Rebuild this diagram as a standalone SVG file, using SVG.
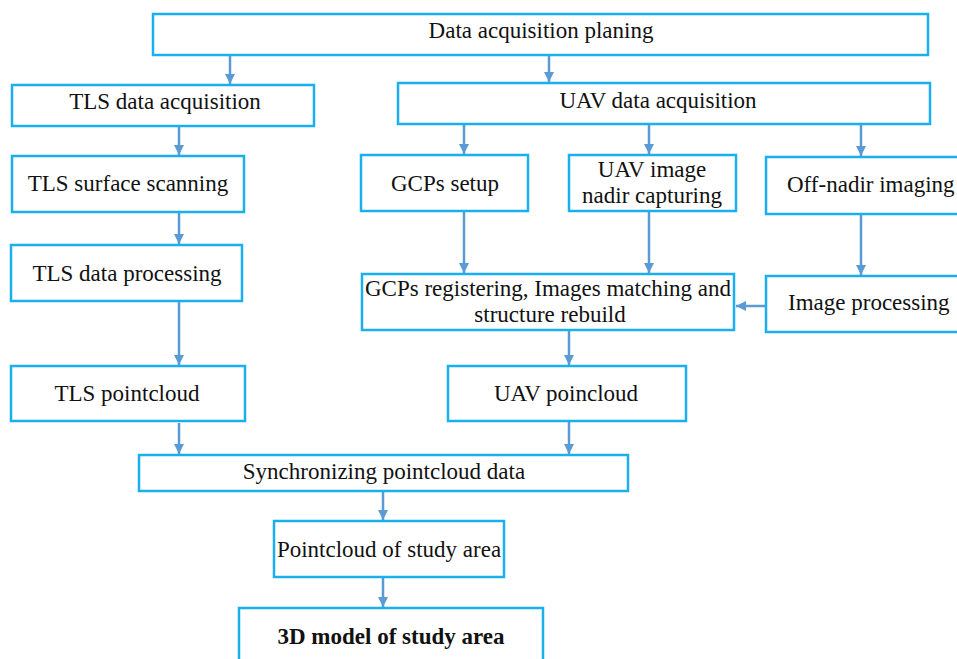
<svg xmlns="http://www.w3.org/2000/svg" width="957" height="659" viewBox="0 0 957 659">
<defs>
<marker id="ah" viewBox="0 0 10 10" refX="10" refY="5" markerWidth="10" markerHeight="10" markerUnits="userSpaceOnUse" orient="auto">
<path d="M0,0 L10,5 L0,10 z" fill="#5B9BD5"/>
</marker>
<style>
.box{fill:#fff;stroke:#1AAFEF;stroke-width:2.5}
.t{font-family:"Liberation Serif","Times New Roman",serif;font-size:23px;fill:#111;text-anchor:middle}
.s{text-anchor:start}
.b{font-weight:bold}
.c{stroke:#5B9BD5;stroke-width:2.5;fill:none;marker-end:url(#ah)}
</style>
</defs>
<rect width="957" height="659" fill="#fff"/>
<g id="connectors">
<line class="c" x1="230" y1="55" x2="230" y2="84"/>
<line class="c" x1="549" y1="55" x2="549" y2="82"/>
<line class="c" x1="179" y1="127" x2="179" y2="155"/>
<line class="c" x1="179" y1="213" x2="179" y2="244"/>
<line class="c" x1="179" y1="302" x2="179" y2="365"/>
<line class="c" x1="179" y1="423" x2="179" y2="454"/>
<line class="c" x1="464" y1="125" x2="464" y2="154"/>
<line class="c" x1="649" y1="125" x2="649" y2="154"/>
<line class="c" x1="861" y1="125" x2="861" y2="156"/>
<line class="c" x1="464" y1="212" x2="464" y2="273"/>
<line class="c" x1="649" y1="212" x2="649" y2="273"/>
<line class="c" x1="861" y1="215" x2="861" y2="275"/>
<line class="c" x1="766" y1="306" x2="736" y2="306"/>
<line class="c" x1="569" y1="331" x2="569" y2="365"/>
<line class="c" x1="569" y1="422" x2="569" y2="454"/>
<line class="c" x1="383" y1="492" x2="383" y2="520"/>
<line class="c" x1="383" y1="578" x2="383" y2="607"/>
</g>
<g id="n-plan"><rect class="box" x="153" y="14" width="775" height="41"/><text class="t" x="541" y="38">Data acquisition planing</text></g>
<g id="n-tls-acq"><rect class="box" x="12" y="85" width="302" height="41"/><text class="t" x="165" y="109">TLS data acquisition</text></g>
<g id="n-uav-acq"><rect class="box" x="398" y="83" width="532" height="41"/><text class="t" x="658" y="108">UAV data acquisition</text></g>
<g id="n-tls-scan"><rect class="box" x="12" y="156" width="232" height="56"/><text class="t" x="128" y="191">TLS surface scanning</text></g>
<g id="n-tls-proc"><rect class="box" x="11" y="245" width="231" height="56"/><text class="t" x="127" y="281">TLS data processing</text></g>
<g id="n-tls-pc"><rect class="box" x="11" y="366" width="234" height="55"/><text class="t" x="127" y="401">TLS pointcloud</text></g>
<g id="n-gcp"><rect class="box" x="361" y="155" width="167" height="56"/><text class="t" x="445" y="191">GCPs setup</text></g>
<g id="n-nadir"><rect class="box" x="569" y="155" width="167" height="56"/><text class="t" x="652" y="177">UAV image</text><text class="t" x="652" y="203">nadir capturing</text></g>
<g id="n-offnadir"><rect class="box" x="766" y="157" width="200" height="57"/><text class="t s" x="787" y="192">Off-nadir imaging</text></g>
<g id="n-gcpreg"><rect class="box" x="362" y="274" width="372" height="56"/><text class="t" x="548" y="296">GCPs registering, Images matching and</text><text class="t" x="550" y="322">structure rebuild</text></g>
<g id="n-imgproc"><rect class="box" x="766" y="276" width="200" height="56"/><text class="t s" x="788" y="310">Image processing</text></g>
<g id="n-uav-pc"><rect class="box" x="448" y="366" width="238" height="55"/><text class="t" x="566" y="401">UAV poincloud</text></g>
<g id="n-sync"><rect class="box" x="139" y="455" width="489" height="36"/><text class="t" x="384" y="479">Synchronizing pointcloud data</text></g>
<g id="n-pc-study"><rect class="box" x="274" y="521" width="230" height="56"/><text class="t" x="389" y="557">Pointcloud of study area</text></g>
<g id="n-3d"><rect class="box" x="239" y="608" width="304" height="60"/><text class="t b" x="391" y="644">3D model of study area</text></g>
</svg>
